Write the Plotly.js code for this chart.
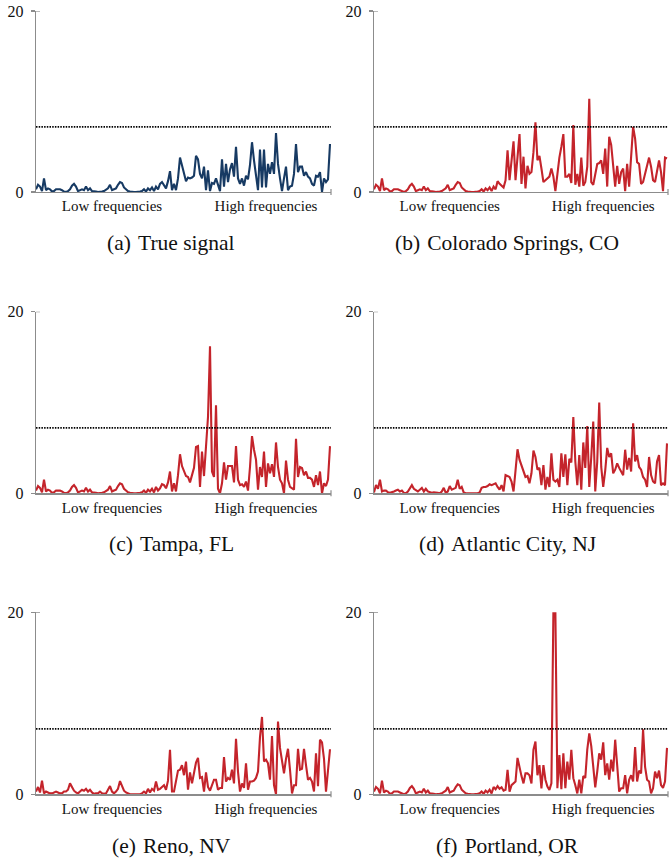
<!DOCTYPE html>
<html>
<head>
<meta charset="utf-8">
<script src="https://cdn.plot.ly/plotly-3.0.1.min.js"></script>
<style>
  html, body { margin: 0; padding: 0; background: #fff; }
  #chart { width: 669px; height: 859px; }
</style>
</head>
<body>
<div id="chart"></div>
<script>
// ---------- data ----------
const lowBand = [0.3,0.8,0.6,0.1,1.5,0.2,0.4,0.3,0.05,0.1,
  0.3,0.3,0.3,0.2,0.05,0.0,0.1,0.3,0.7,0.9,
  0.6,0.1,0.2,0.3,0.2,0.6,0.2,0.4,0.1,0.1,
  0.05,0.0,0.0,0.05,0.1,0.3,0.4,0.8,0.2,0.3,
  0.4,0.8,1.1,1.0,0.5,0.3,0.1,0.05,0.0,0.0,
  0.0,0.0,0.05,0.1,0.3,0.05,0.4,0.2,0.5,0.1,
  0.6,0.3];

const trueHigh = [0.9,1.1,0.7,0.4,1.2,2.3,0.2,0.9,0.2,1.5,
  3.8,3.0,2.2,1.2,1.6,1.5,1.6,1.8,4.0,3.6,
  2.0,1.5,2.8,0.2,2.4,0.1,1.0,0.9,1.5,0.7,
  0.1,3.6,0.6,3.1,1.1,2.5,3.2,1.7,5.0,1.5,
  0.9,1.5,0.7,1.8,1.4,3.0,5.5,3.5,1.5,0.2,
  4.7,0.5,4.7,0.5,3.1,2.0,3.3,2.0,6.5,3.1,
  1.5,0.1,1.5,2.8,0.2,0.6,0.7,2.0,5.3,2.2,
  2.8,2.8,1.8,2.2,1.7,1.5,0.9,0.7,1.8,1.7,
  2.2,0.0,1.5,1.1,1.4,5.3];

const coloradoHigh = [1.2,0.9,0.7,0.5,1.3,4.6,1.3,3.9,5.6,1.3,
  3.5,6.4,0.9,3.9,0.4,2.9,2.0,2.2,4.4,7.7,
  3.5,4.0,2.6,1.1,1.3,1.5,1.7,2.6,1.7,0.1,
  2.0,3.8,5.0,6.4,1.7,1.7,2.0,1.0,7.4,0.8,
  2.0,0.6,3.8,0.7,1.1,2.8,10.3,1.1,0.8,1.8,
  3.1,3.2,3.5,2.0,4.8,0.6,6.1,5.2,2.8,0.6,
  2.9,0.9,2.2,2.6,0.1,3.1,0.6,3.5,7.2,5.9,
  3.3,3.1,0.9,1.1,2.0,2.8,3.8,2.8,1.3,1.1,
  2.5,3.5,2.2,0.1,3.8,3.7];

const tampaHigh = [0.7,0.3,0.55,1.0,0.9,0.55,1.2,2.4,0.2,1.1,
  0.2,2.0,4.3,3.0,2.5,1.9,1.8,1.2,2.0,2.8,
  5.1,5.2,0.7,4.6,1.9,5.5,8.4,16.2,2.4,1.8,
  9.7,0.5,0.0,1.1,3.4,1.5,3.0,3.0,3.0,1.2,
  5.2,1.5,0.9,1.0,0.7,1.3,0.3,2.9,6.3,4.8,
  3.7,0.4,2.9,1.8,4.6,0.7,3.3,2.2,3.2,1.8,
  5.6,2.9,1.5,1.1,0.0,3.6,1.5,0.7,0.5,0.4,
  6.0,1.8,2.9,2.8,2.0,2.4,1.7,1.7,1.5,0.7,
  2.0,0.9,2.4,0.0,1.1,0.8,1.5,5.2];

const atlanticLow = [0.1,0.9,0.5,1.5,0.2,0.3,0.3,0.1,0.05,0.1,
  0.2,0.3,0.4,0.2,0.3,0.05,0.0,0.2,0.6,0.9,
  0.5,0.3,0.2,0.4,0.6,0.2,0.5,0.2,0.1,0.05,
  0.1,0.1,0.05,0.0,0.2,0.6,0.05,0.2,0.8,0.4,
  0.5,0.6,1.5,0.5,0.7,0.1,0.0,0.0,0.0,0.0,
  0.0,0.0,0.0,0.1,0.6,0.7,0.7,0.8,1.0];

const atlanticHigh = [0.9,1.0,1.1,0.7,0.4,0.9,0.2,2.0,1.9,1.8,
  1.3,0.2,2.5,4.85,3.7,3.0,2.4,1.8,1.9,1.1,
  2.2,4.7,4.0,2.6,2.8,0.9,3.1,0.4,1.8,0.7,
  4.4,1.5,1.3,1.5,0.7,4.4,1.8,4.3,0.9,3.8,
  3.4,8.4,3.5,0.9,4.2,0.4,5.6,2.8,7.4,0.7,
  4.0,7.9,0.2,3.5,10.0,2.9,0.7,2.5,5.0,4.0,
  4.4,2.2,2.6,3.3,2.8,2.4,2.0,4.8,2.6,3.9,
  2.4,7.7,3.5,4.2,2.9,2.6,1.8,1.5,0.7,4.0,
  2.0,1.3,1.1,3.5,4.2,0.9,1.1,0.9,5.5];

const renoLow = [0.3,0.8,0.2,1.5,0.1,0.3,0.2,0.1,0.1,0.2,
  0.3,0.2,0.1,0.1,0.3,0.3,0.5,1.2,0.8,0.4,
  0.2,0.1,0.3,0.5,0.4,0.6,0.3,0.5,0.2,0.05,
  0.1,0.1,0.3,0.1,0.05,0.1,0.5,0.9,0.3,0.1,
  0.3,0.6,1.45,0.8,0.4,0.2,0.1,0.0,0.0,0.0,
  0.0,0.0,0.0,0.1,0.3,0.1,0.6,0.2,0.6,0.4];

const renoHigh = [1.4,0.5,0.6,0.8,1.0,0.5,1.5,4.9,0.3,0.3,
  1.5,2.6,2.7,3.2,2.1,3.6,0.5,2.4,1.2,2.5,
  3.5,4.0,1.8,1.9,0.3,2.4,0.8,0.4,1.0,1.6,
  1.6,0.5,0.7,0.7,4.1,1.4,1.8,1.6,2.7,1.2,
  6.1,2.5,0.3,1.2,0.7,3.4,0.5,1.4,1.4,1.5,
  1.8,2.5,6.3,8.5,3.6,3.8,3.4,1.6,6.4,1.0,
  0.0,8.0,5.1,3.8,2.3,3.9,5.0,2.7,0.1,1.0,
  1.0,5.0,2.7,2.8,5.0,3.2,1.6,1.8,1.4,0.3,
  4.5,0.9,6.0,5.7,3.9,0.3,2.3,4.95];

const portlandHigh = [0.8,0.55,0.9,0.6,0.77,0.4,0.5,2.7,0.3,1.0,
  1.2,1.4,4.0,2.85,2.0,1.2,2.3,2.3,2.1,1.2,
  4.9,5.8,2.1,3.2,0.66,3.2,1.6,0.84,0.48,1.2,
  20,20,0.66,4.3,0.55,4.5,0.66,3.6,1.6,4.9,
  1.77,1.0,0.1,1.6,0.1,2.0,1.8,4.9,6.7,5.3,
  2.7,0.77,2.5,4.5,3.8,5.7,2.1,3.4,1.6,3.8,
  2.5,6.0,3.2,0.3,0.66,0.66,2.1,0.1,1.6,2.1,
  1.4,5.2,1.4,2.6,2.3,7.15,3.0,1.6,1.4,0.1,
  0.66,2.5,1.77,2.6,1.0,0.7,1.4,5.1];

const threshold = 7.2;
const yTicks = [0, 20];
const xTickPos = [38, 115];
const xTickText = ['Low frequencies', 'High frequencies'];
const captions = ['(a)\u2004True signal', '(b)\u2004Colorado Springs, CO', '(c)\u2004Tampa, FL',
                  '(d)\u2004Atlantic City, NJ', '(e)\u2004Reno, NV', '(f)\u2004Portland, OR'];

const series = [
  lowBand.concat(trueHigh),
  lowBand.concat(coloradoHigh),
  lowBand.slice(0, 60).concat(tampaHigh),
  atlanticLow.concat(atlanticHigh),
  renoLow.concat(renoHigh),
  lowBand.slice(0, 60).concat(portlandHigh)
];
const colors = ['#173a63', '#c4242b', '#c4242b', '#c4242b', '#c4242b', '#c4242b'];

// ---------- layout geometry (pixels) ----------
const W = 669, H = 859;
const colX = [[36, 331], [374, 668]];
const rowY = [[11, 192], [311.7, 493.3], [612.3, 794.3]];
const capX = [171, 507];
const capY = [243, 544, 846];
const FONT = 'Liberation Serif, Times New Roman, serif';
const AX = '#8c8c8c';

const data = [];
const layout = {
  width: W, height: H,
  margin: {l: 0, r: 0, t: 0, b: 0},
  paper_bgcolor: '#fff', plot_bgcolor: '#fff',
  showlegend: false,
  shapes: [], annotations: []
};

series.forEach((ys, k) => {
  const col = k % 2, row = Math.floor(k / 2);
  const n = k + 1;
  const xn = n === 1 ? 'x' : 'x' + n, yn = n === 1 ? 'y' : 'y' + n;
  const xs = ys.map((_, i) => i);
  data.push({
    type: 'scatter', mode: 'lines', x: xs, y: ys, xaxis: xn, yaxis: yn,
    line: {color: colors[k], width: 2.1}, hoverinfo: 'skip'
  });
  const xa = n === 1 ? 'xaxis' : 'xaxis' + n, ya = n === 1 ? 'yaxis' : 'yaxis' + n;
  const pw = colX[col][1] - colX[col][0];
  const ph = rowY[row][1] - rowY[row][0];
  layout[xa] = {
    domain: [colX[col][0] / W, colX[col][1] / W],
    anchor: yn, range: [0, 147.5],
    showline: true, linecolor: AX, linewidth: 1.2,
    showgrid: false, zeroline: false,
    tickmode: 'array', tickvals: xTickPos, ticktext: xTickText, ticks: '',
    ticklabelstandoff: 0,
    tickfont: {family: FONT, size: 15, color: '#111'}, fixedrange: true
  };
  layout[ya] = {
    domain: [1 - rowY[row][1] / H, 1 - rowY[row][0] / H],
    anchor: xn, range: [0, 20],
    showline: true, linecolor: AX, linewidth: 1.2,
    showgrid: false, zeroline: false,
    tickmode: 'array', tickvals: yTicks, ticks: 'outside', ticklen: 4, tickcolor: AX, tickwidth: 1.2,
    ticklabelstandoff: 4,
    tickfont: {family: FONT, size: 16, color: '#111'}, fixedrange: true
  };
  // threshold dotted line
  layout.shapes.push({
    type: 'line', xref: xn + ' domain', yref: yn, x0: 0, x1: 1, y0: threshold, y1: threshold,
    line: {color: '#000', width: 1.7, dash: '1.5px,1.2px'}
  });
  // inner half of the top y tick
  layout.shapes.push({
    type: 'line', xref: xn + ' domain', yref: yn, x0: 0, x1: 4 / pw, y0: 20, y1: 20,
    line: {color: AX, width: 1.2}
  });
  // small tick at right end of x axis
  layout.shapes.push({
    type: 'line', xref: xn + ' domain', yref: yn + ' domain', x0: 1, x1: 1, y0: -3 / ph, y1: 3 / ph,
    line: {color: AX, width: 1.2}
  });
  layout.annotations.push({
    text: captions[k], xref: 'paper', yref: 'paper',
    x: capX[col] / W, y: 1 - capY[row] / H, xanchor: 'center', yanchor: 'middle',
    showarrow: false, font: {family: FONT, size: 21.5, color: '#111'}
  });
});

Plotly.newPlot('chart', data, layout, {displayModeBar: false, staticPlot: true});
</script>
</body>
</html>
